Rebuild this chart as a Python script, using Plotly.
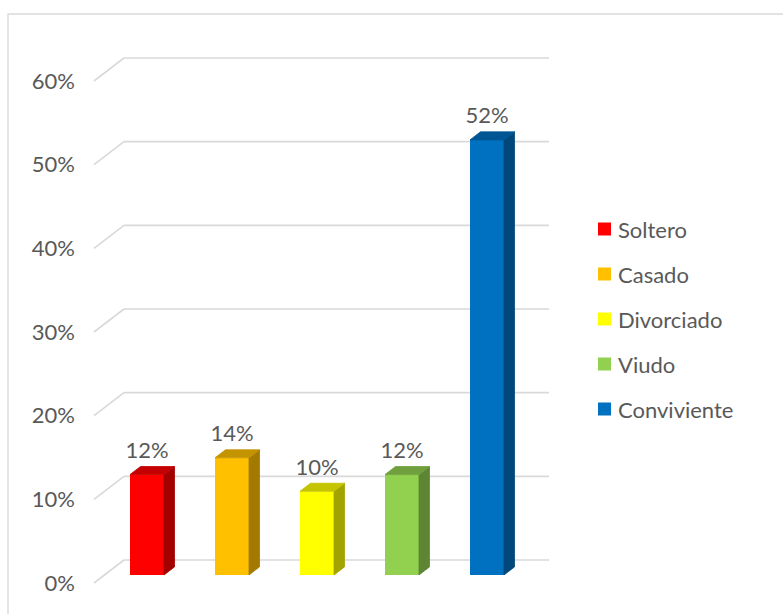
import plotly.graph_objects as go

# ---- data -------------------------------------------------------------
categories = ["Soltero", "Casado", "Divorciado", "Viudo", "Conviviente"]
values = [12, 14, 10, 12, 52]
face_colors = ["#FF0000", "#FFC000", "#FFFF00", "#92D050", "#0070C0"]
tick_values = [0, 10, 20, 30, 40, 50, 60]
tick_labels = [f"{t}%" for t in tick_values]

# ---- geometry of the pseudo-3D view -------------------------------------
W, H = 783, 614
LEFT = 76                    # left margin holding the y tick labels
CAT_PX = 85.0                # pixels per category step
PCT_PX = 502.0 / 60.0        # pixels per percentage point
ORIGIN_X = 136.5             # pixel x of the first category on the front plane
ORIGIN_Y = 583.0             # pixel y of 0 % on the front plane
DEPTH_X = 30.0 / CAT_PX      # wall depth, expressed in category units
DEPTH_Y = 23.0 / PCT_PX      # wall depth, expressed in percent units
BAR_FRONT, BAR_BACK = 0.35, 0.70
BAR_HALF = 0.2
LABEL_GAP_PX = 3.0
TEXT = "#595959"
GRID = "#D9D9D9"
FONT = "Lato"
FONT_SIZE = 22


def at(x, v, d):
    """Project a point (category x, value v, depth d) onto the front plane."""
    return x + DEPTH_X * d, v + DEPTH_Y * d


def shade(hex_color, k):
    r, g, b = (int(hex_color[i:i + 2], 16) for i in (1, 3, 5))
    return "#{:02X}{:02X}{:02X}".format(int(r * k), int(g * k), int(b * k))


def px_x(p):
    return (p - ORIGIN_X) / CAT_PX


def px_y(p):
    return (ORIGIN_Y - p) / PCT_PX


fig = go.Figure()

# walls: back-wall gridlines plus the diagonal on the left side wall
shapes = []
x_first, x_last = -0.5, len(categories) - 0.5
for t in tick_values:
    bx0, by0 = at(x_first, t, 1)
    bx1, by1 = at(x_last, t, 1)
    fx0, fy0 = at(x_first, t, 0)
    shapes.append(dict(type="line", xref="x", yref="y", x0=bx0, y0=by0,
                       x1=bx1, y1=by1, line=dict(color=GRID, width=1.6),
                       layer="below"))
    shapes.append(dict(type="line", xref="x", yref="y", x0=fx0, y0=fy0,
                       x1=bx0, y1=by0, line=dict(color=GRID, width=1.6),
                       layer="below"))

# chart-area frame
pw = W - LEFT
shapes.append(dict(type="rect", xref="paper", yref="paper",
                   x0=(8 - LEFT) / pw, x1=(W + 10 - LEFT) / pw,
                   y0=1 - (H + 10) / H, y1=1 - 14.0 / H,
                   line=dict(color=GRID, width=1.3), fillcolor="rgba(0,0,0,0)",
                   layer="below"))

# bars: side and top faces as polygons, front face as a bar
for i, (v, c) in enumerate(zip(values, face_colors)):
    xl, xr = i - BAR_HALF, i + BAR_HALF
    side = [at(xr, 0, BAR_FRONT), at(xr, v, BAR_FRONT),
            at(xr, v, BAR_BACK), at(xr, 0, BAR_BACK)]
    top = [at(xl, v, BAR_FRONT), at(xr, v, BAR_FRONT),
           at(xr, v, BAR_BACK), at(xl, v, BAR_BACK)]
    for poly, k in ((side, 0.64), (top, 0.77)):
        fig.add_trace(go.Scatter(
            x=[p[0] for p in poly] + [poly[0][0]],
            y=[p[1] for p in poly] + [poly[0][1]],
            mode="lines", fill="toself", fillcolor=shade(c, k),
            line=dict(color=shade(c, k), width=0.8),
            hoverinfo="skip", showlegend=False))
    fx, fy = at(i, 0, BAR_FRONT)
    fig.add_trace(go.Bar(
        x=[fx], y=[v], base=[fy], width=2 * BAR_HALF,
        marker=dict(color=c, line=dict(width=0)),
        name=categories[i], hoverinfo="skip", showlegend=False))

# value labels above each bar
lab_x = [at(i, v, BAR_FRONT)[0] for i, v in enumerate(values)]
lab_y = [at(i, v, BAR_BACK)[1] + LABEL_GAP_PX / PCT_PX
         for i, v in enumerate(values)]
fig.add_trace(go.Scatter(
    x=lab_x, y=lab_y, mode="text", text=[f"{v}%" for v in values],
    textposition="top center", cliponaxis=False,
    textfont=dict(family=FONT, size=FONT_SIZE, color=TEXT),
    hoverinfo="skip", showlegend=False))

# legend
legend_rows_px = [229, 274, 319, 364, 409]
fig.add_trace(go.Scatter(
    x=[px_x(604.5)] * len(categories), y=[px_y(p) for p in legend_rows_px],
    mode="markers",
    marker=dict(symbol="square", size=13, color=face_colors, line=dict(width=0)),
    hoverinfo="skip", showlegend=False))
annotations = [
    dict(x=px_x(616), y=px_y(p), xref="x", yref="y", text=name,
         showarrow=False, xanchor="left", yanchor="middle",
         font=dict(family=FONT, size=FONT_SIZE, color=TEXT))
    for name, p in zip(categories, legend_rows_px)
]

fig.update_layout(
    width=W, height=H,
    margin=dict(l=LEFT, r=0, t=0, b=0),
    paper_bgcolor="white", plot_bgcolor="white",
    barmode="overlay", hovermode=False,
    showlegend=False,
    shapes=shapes, annotations=annotations,
    xaxis=dict(range=[px_x(LEFT), px_x(W)], visible=False, fixedrange=True),
    yaxis=dict(range=[px_y(H), px_y(0)], tickvals=tick_values,
               ticktext=tick_labels, showgrid=False, zeroline=False,
               showline=False, ticks="", automargin=False, fixedrange=True,
               tickfont=dict(family=FONT, size=FONT_SIZE, color=TEXT)),
)

fig.write_html("out.html")
